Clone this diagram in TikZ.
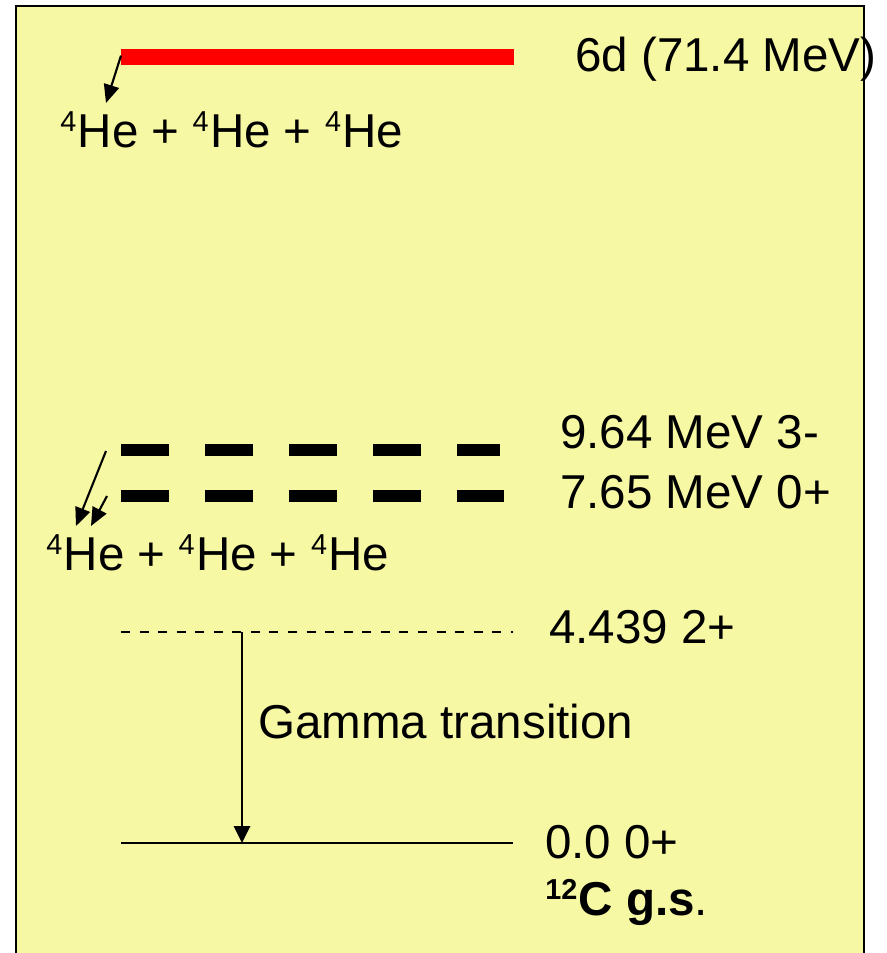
\documentclass[tikz,border=0pt]{standalone}
\usepackage{fontspec}
\setmainfont{Liberation Sans}
\usetikzlibrary{arrows.meta}

\definecolor{padyellow}{RGB}{246,248,163}

% small raised mass number, Arial-like
\newcommand{\massno}[1]{\raisebox{11pt}{\fontsize{20.5}{21}\selectfont #1}\kern1pt}
\newcommand{\he}{\massno{4}He}

\tikzset{
    lbl/.style={anchor=base west, inner sep=0pt, font=\fontsize{33.8}{40}\selectfont},
    decay/.style={-{Triangle[length=13pt,width=11pt]}, line width=1.5pt},
    broad/.style={line width=8.9pt, dash pattern=on 34.1pt off 25.6pt},
}

\begin{document}
\begin{tikzpicture}[x=0.025cm, y=-0.025cm]
    \useasboundingbox (0,0) rectangle (887,953);
    \clip (0,0) rectangle (887,953);
    \draw[line width=2.1pt, fill=padyellow] (16,6) rectangle (864,990);

    % 6d state and its breakup
    \draw[red, line width=11.4pt] (121,57) coordinate (d6) -- (514,57);
    \node[lbl] (d6lbl) at (575,72) {6d (71.4 MeV)};
    \node[lbl] (topHe) at (60,147) {\he{} + \he{} + \he};
    \coordinate (topTip) at (106,103);
    \draw[decay] ([yshift=1]d6) -- (topTip);

    % Hoyle state and the 3- level
    \draw[broad] (121,450) coordinate (l964) -- (500,450);
    \draw[broad] (121,496) coordinate (l765) -- (504,496);
    \node[lbl] (l964lbl) at (560,448) {9.64 MeV 3-};
    \node[lbl] (l765lbl) at (560,508) {7.65 MeV 0+};
    \node[lbl] (midHe) at (46,570) {\he{} + \he{} + \he};
    \coordinate (midTipA) at (76,526);
    \coordinate (midTipB) at (91,526);
    \draw[decay] (106,451) -- (midTipA);
    \draw[decay] (107,496) -- (midTipB);

    % first excited state, gamma decay to g.s.
    \draw[line width=1.8pt, dash pattern=on 6.4pt off 6.8pt] (121,632) -- (513,632);
    \coordinate (g2) at (242,632);
    \node[lbl] (l4439lbl) at (549,643) {4.439 2+};
    \draw[line width=1.6pt] (121,843) -- (513,843);
    \coordinate (gs) at (242,843);
    \draw[-{Triangle[length=12pt,width=11.5pt]}, line width=1.7pt] (g2) -- (gs);
    \node[lbl] (gammalbl) at (258,738) {Gamma transition};
    \node[lbl] (gslbl) at (545,858) {0.0 0+};
    \node[lbl] (gsname) at (545,915) {\textbf{\massno{12}C g.s}.};
\end{tikzpicture}
\end{document}
